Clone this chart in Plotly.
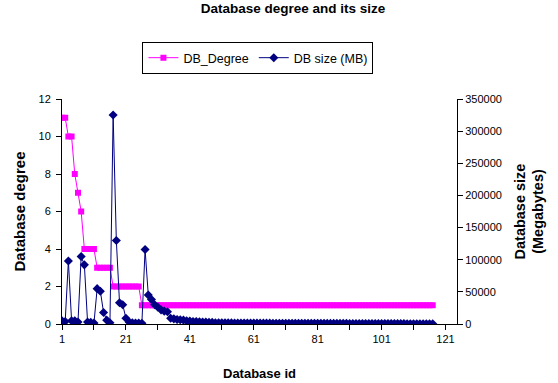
import plotly.graph_objects as go

db_id = list(range(1, 118))
db_degree = [11, 11, 10, 10, 8, 7, 6, 4, 4, 4, 4, 3, 3, 3, 3, 3,
             2, 2, 2, 2, 2, 2, 2, 2, 2] + [1] * 92
db_size = [5000, 4000, 98000, 5000, 5000, 3000, 105000, 92000, 3000, 2500,
           1500, 55000, 51000, 18000, 6000, 2000, 325000, 130000, 33000, 30000,
           9000, 3000, 2000, 1500, 1500, 1000, 116000, 45000, 38000, 30000,
           26000, 22000, 20000, 19000, 9000, 8000, 7000, 6500, 6000, 5000,
           4500, 4000, 4000, 3500, 3000, 3000, 2500, 2500, 2000, 2000,
           1800, 1800, 1700, 1700, 1600, 1600, 1500, 1500, 1500, 1400,
           1400, 1400, 1300, 1300, 1300, 1300, 1200, 1200, 1200, 1200,
           1200, 1100, 1100, 1100, 1100, 1100, 1000, 1000, 1000, 1000,
           1000, 1000, 1000, 900, 900, 900, 900, 900, 900, 900,
           800, 800, 800, 800, 800, 800, 800, 700, 700, 700,
           700, 700, 700, 600, 600, 600, 600, 600, 500, 500,
           500, 500, 500, 400, 400, 400, 400]
x_tickvals = list(range(1, 122, 10))
x_ticktext = [str(v) if (v - 1) % 20 == 0 else "" for v in x_tickvals]

font = "Liberation Sans, Arial, sans-serif"
fig = go.Figure()
fig.add_trace(go.Scatter(
    x=db_id, y=db_degree, name="DB_Degree", mode="lines+markers",
    line=dict(color="#FF00FF", width=1),
    marker=dict(symbol="square", size=6, color="#FF00FF"),
))
fig.add_trace(go.Scatter(
    x=db_id[:len(db_size)], y=db_size, name="DB size (MB)", mode="lines+markers",
    yaxis="y2",
    line=dict(color="#000080", width=1),
    marker=dict(symbol="diamond", size=7, color="#000080"),
))
fig.update_layout(
    width=558, height=383,
    margin=dict(l=62, r=101, t=99, b=59, autoexpand=False),
    paper_bgcolor="white", plot_bgcolor="white",
    font=dict(family=font, size=11, color="black"),
    title=dict(text="<b>Database degree and its size</b>", x=0.525, xanchor="center",
               y=0.99, yanchor="top", font=dict(size=13.5)),
    showlegend=True,
    legend=dict(orientation="h", x=0.496, xanchor="center", y=1.182, yanchor="middle",
                bordercolor="black", borderwidth=1, font=dict(size=12.5),
                itemwidth=30, tracegroupgap=0),
    xaxis=dict(range=[1, 124.6], tickvals=x_tickvals, ticktext=x_ticktext,
               showline=True, linecolor="black", linewidth=1, ticks="outside",
               ticklen=5, tickcolor="black", showgrid=False, zeroline=False,
               automargin=False,
               title=dict(text="<b>Database id</b>", font=dict(size=13), standoff=24)),
    yaxis=dict(range=[0, 12], dtick=2, showline=True, linecolor="black", linewidth=1,
               ticks="outside", ticklen=5, tickcolor="black", showgrid=False,
               zeroline=False, ticklabelstandoff=3, automargin=False,
               title=dict(text="<b>Database degree</b>", font=dict(size=15), standoff=9)),
    yaxis2=dict(range=[0, 350000], dtick=50000, tickformat="d", overlaying="y",
                side="right", showline=True, linecolor="black", linewidth=1,
                ticks="outside", ticklen=5, tickcolor="black", showgrid=False,
                zeroline=False, automargin=False,
                title=dict(text="<b>Database size<br>(Megabytes)</b>",
                           font=dict(size=14.5), standoff=13)),
)
fig.write_html("out.html")
